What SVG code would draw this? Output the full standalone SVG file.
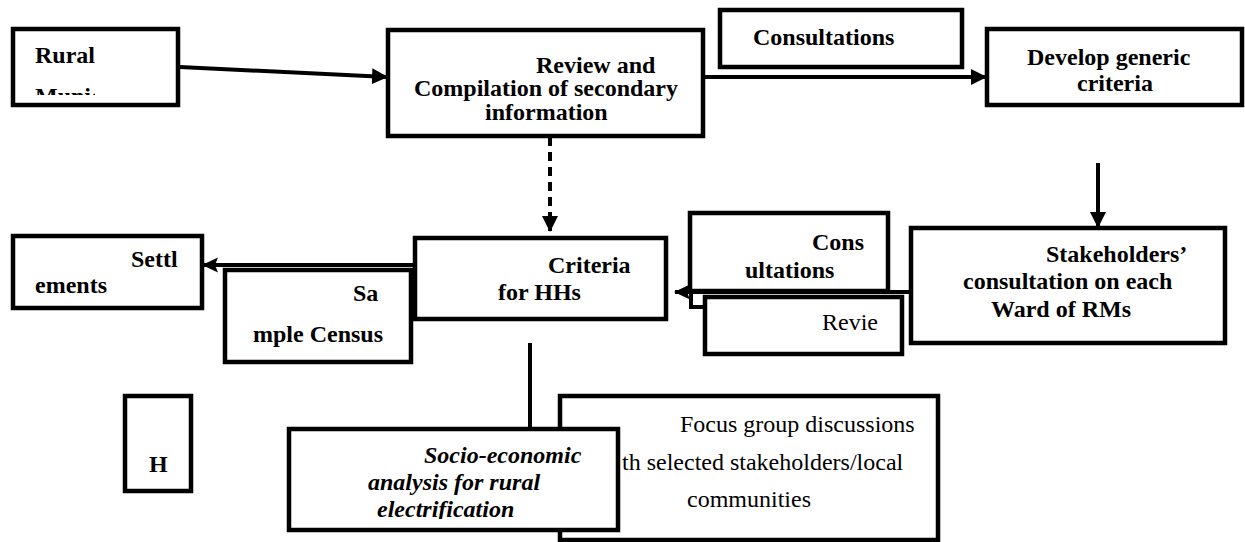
<svg xmlns="http://www.w3.org/2000/svg" width="1245" height="542" viewBox="0 0 1245 542" font-family="Liberation Serif, Times New Roman, serif">
<style>
.box{fill:#fff;stroke:#000;stroke-width:4.5}
.b{font-weight:bold;font-size:24px;fill:#000}
.bi{font-weight:bold;font-style:italic;font-size:24px;fill:#000}
.r{font-size:24px;fill:#000}
.c{fill:none;stroke:#000;stroke-width:4}
</style>
<defs>
<marker id="ah" markerUnits="userSpaceOnUse" markerWidth="16" markerHeight="16" refX="15" refY="8" orient="auto">
<path d="M0,0 L16,8 L0,16 Z" fill="#000"/>
</marker>
<marker id="ahs" markerUnits="userSpaceOnUse" markerWidth="16" markerHeight="15" refX="15" refY="7.5" orient="auto">
<path d="M0,0 L16,7.5 L0,15 L3,7.5 Z" fill="#000"/>
</marker>
<clipPath id="clipRural"><rect x="15" y="31" width="80" height="64"/></clipPath>
<clipPath id="clipSocio"><rect x="291" y="431" width="325" height="88"/></clipPath>
</defs>

<g id="n-focus">
<rect class="box" x="560" y="396" width="378" height="144"/>
<text class="r" font-family="Liberation Serif" x="680" y="432">Focus group discussions</text>
<text class="r" font-family="Liberation Serif" x="622" y="470">th selected stakeholders/local</text>
<text class="r" font-family="Liberation Serif" x="687" y="507">communities</text>
</g>

<g id="connectors">
<path class="c" d="M180,67 L387,77" marker-end="url(#ah)"/>
<path class="c" d="M705,77 L986,77" marker-end="url(#ah)"/>
<path class="c" d="M1098,163 L1098,227" marker-end="url(#ah)"/>
<path class="c" d="M550,137 L550,231" stroke-width="3" stroke-dasharray="9,6" marker-end="url(#ah)"/>
<path class="c" d="M911,292 L675,292" marker-end="url(#ahs)"/>
<path class="c" d="M413,265 L203,265" marker-end="url(#ahs)"/>
<path class="c" d="M530,343 L530,429"/>
<path class="c" d="M691,292 L691,307 L705,307"/>
</g>

<g id="n-rural">
<rect class="box" x="13" y="29" width="165" height="76"/>
<text class="b" font-family="Liberation Serif" x="35" y="63">Rural</text>
<g clip-path="url(#clipRural)">
<text class="b" font-family="Liberation Serif" x="35" y="104">Municipalities</text>
</g>
</g>

<g id="n-review">
<rect class="box" x="388" y="30" width="315" height="106"/>
<text class="b" font-family="Liberation Serif" x="536" y="73">Review and</text>
<text class="b" font-family="Liberation Serif" x="414" y="96">Compilation of secondary</text>
<text class="b" font-family="Liberation Serif" x="485" y="120">information</text>
</g>

<g id="n-consult-top">
<rect class="box" x="720" y="10" width="242" height="57"/>
<text class="b" font-family="Liberation Serif" x="753" y="45">Consultations</text>
</g>

<g id="n-develop">
<rect class="box" x="987" y="29" width="255" height="76"/>
<text class="b" font-family="Liberation Serif" x="1027" y="65">Develop generic</text>
<text class="b" font-family="Liberation Serif" x="1077" y="91">criteria</text>
</g>

<g id="n-settlements">
<rect class="box" x="13" y="236" width="189" height="72"/>
<text class="b" font-family="Liberation Serif" x="131" y="267">Settl</text>
<text class="b" font-family="Liberation Serif" x="35" y="293">ements</text>
</g>

<g id="n-sample">
<rect class="box" x="225" y="270" width="186" height="92"/>
<text class="b" font-family="Liberation Serif" x="353" y="301">Sa</text>
<text class="b" font-family="Liberation Serif" x="253" y="342">mple Census</text>
</g>

<g id="n-criteria">
<rect class="box" x="415" y="238" width="251" height="81"/>
<text class="b" font-family="Liberation Serif" x="548" y="273">Criteria</text>
<text class="b" font-family="Liberation Serif" x="498" y="300">for HHs</text>
</g>

<g id="n-consult-mid">
<rect class="box" x="690" y="213" width="198" height="78"/>
<text class="b" font-family="Liberation Serif" x="812" y="250">Cons</text>
<text class="b" font-family="Liberation Serif" x="745" y="278">ultations</text>
</g>

<g id="n-revie">
<rect class="box" x="705" y="297" width="197" height="57"/>
<text class="r" font-family="Liberation Serif" x="822" y="330">Revie</text>
</g>

<g id="n-stakeholders">
<rect class="box" x="911" y="228" width="314" height="115"/>
<text class="b" font-family="Liberation Serif" x="1046" y="262">Stakeholders’</text>
<text class="b" font-family="Liberation Serif" x="963" y="289">consultation on each</text>
<text class="b" font-family="Liberation Serif" x="991" y="317">Ward of RMs</text>
</g>

<g id="n-h">
<rect class="box" x="125" y="396" width="66" height="95"/>
<text class="b" font-family="Liberation Serif" x="149" y="472">H</text>
</g>

<g id="n-socio">
<rect class="box" x="289" y="429" width="329" height="101"/>
<g clip-path="url(#clipSocio)">
<text class="bi" font-family="Liberation Serif" x="424" y="463">Socio-economic</text>
<text class="bi" font-family="Liberation Serif" x="368" y="490">analysis for rural</text>
<text class="bi" font-family="Liberation Serif" x="377" y="517">electrification</text>
</g>
</g>
</svg>
